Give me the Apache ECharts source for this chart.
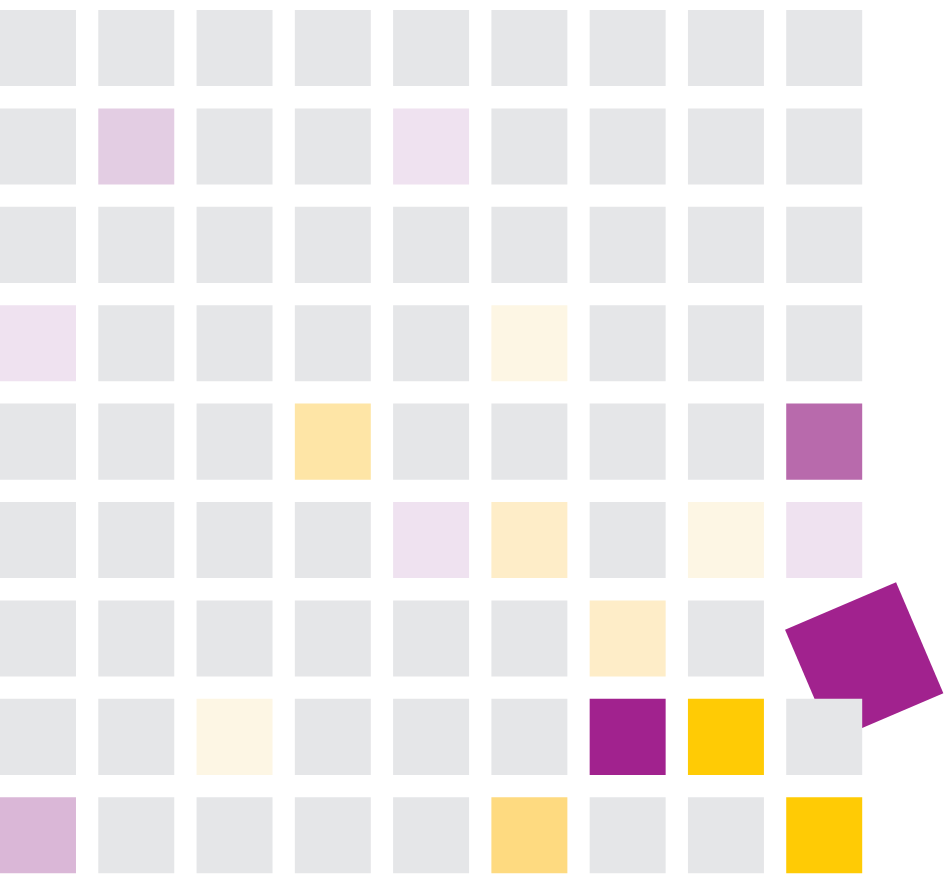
<!DOCTYPE html>
<html>
<head>
<meta charset="utf-8">
<script src="https://cdn.jsdelivr.net/npm/echarts@6/dist/echarts.min.js"></script>
<style>html,body{margin:0;padding:0;background:#fff;}#c{width:945px;height:877px;}</style>
</head>
<body>
<div id="c"></div>
<script>
// Tone codes per row (top to bottom), per column (left to right)
var row1 = ['G','G','G','G','G','G','G','G','G'];
var row2 = ['G','P20','G','G','P10','G','G','G','G'];
var row3 = ['G','G','G','G','G','G','G','G','G'];
var row4 = ['P10','G','G','G','G','Y10','G','G','G'];
var row5 = ['G','G','G','Y35','G','G','G','G','P65'];
var row6 = ['G','G','G','G','P10','Y25','G','Y10','P10'];
var row7 = ['G','G','G','G','G','G','Y25','G','P'];
var row8 = ['G','G','Y10','G','G','G','P','Y','G'];
var row9 = ['P30','G','G','G','G','Y50','G','G','Y'];
var rows = [row1,row2,row3,row4,row5,row6,row7,row8,row9];
// The one cell that is tipped out of the grid: [column, row]
var tippedCell = [8, 6];

var toneColor = {
  G:'#E5E6E8', P:'#A1228E', P65:'#B86AAC', P30:'#DAB7D7', P20:'#E3CDE3', P10:'#EFE2F0',
  Y:'#FFCB05', Y50:'#FEDA80', Y35:'#FEE5A6', Y25:'#FEEDC8', Y10:'#FDF6E4'
};

var gridData = [], tippedData = [];
rows.forEach(function(r, ri){
  r.forEach(function(t, ci){
    var item = {value:[ci, ri], itemStyle:{color: toneColor[t]}};
    if (ci === tippedCell[0] && ri === tippedCell[1]) tippedData.push(item);
    else gridData.push(item);
  });
});

var FILL = 76/98.3;

function renderCell(params, api){
  var tl = api.coord([api.value(0), api.value(1)]);
  var pitch = api.size([1,1]);
  return {type:'rect', shape:{x:tl[0], y:tl[1], width:pitch[0]*FILL, height:pitch[1]*FILL},
    style:{fill: api.visual('color')}};
}
function renderTipped(params, api){
  var tl = api.coord([api.value(0), api.value(1)]);
  var pitch = api.size([1,1]);
  var cx = tl[0] + pitch[0]*FILL/2 + pitch[0]*0.407;
  var cy = tl[1] + pitch[1]*FILL/2 + pitch[1]*0.234;
  var s = pitch[0]*FILL*1.588;
  return {type:'rect', x:cx, y:cy, rotation: 23.1*Math.PI/180,
    shape:{x:-s/2, y:-s/2, width:s, height:s},
    style:{fill: api.visual('color')}};
}

var chart = echarts.init(document.getElementById('c'), null, {renderer:'canvas'});
chart.setOption({
  animation:false,
  backgroundColor:'#ffffff',
  grid:{left:0, top:10, width:884.5, height:867},
  xAxis:{type:'value', min:0, max:9, show:false},
  yAxis:{type:'value', min:0, max:867/98.4, inverse:true, show:false},
  series:[
    {type:'custom', z:1, renderItem:renderTipped, data:tippedData, clip:false},
    {type:'custom', z:2, renderItem:renderCell, data:gridData, clip:false}
  ]
});
</script>
</body>
</html>
